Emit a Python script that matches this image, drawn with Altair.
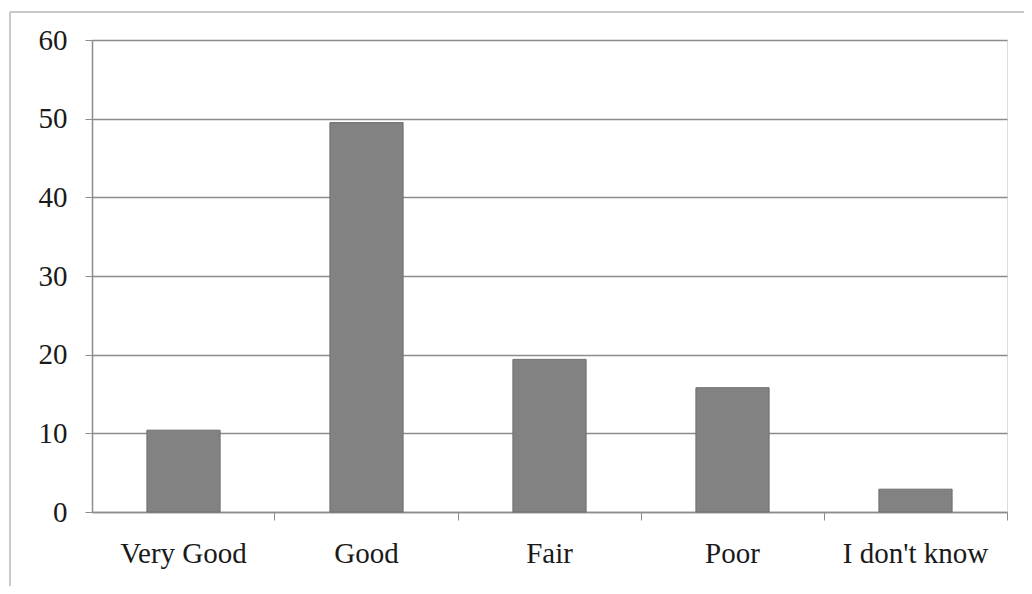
import altair as alt
import pandas as pd

categories = ["Very Good", "Good", "Fair", "Poor", "I don't know"]
values = [10.4, 49.5, 19.4, 15.8, 2.9]

df = pd.DataFrame({"category": categories, "value": values})

FONT = "Liberation Serif"
GRID = "#8c8c8c"

bars = alt.Chart(df).mark_bar(
    color="#828282", stroke="#6e6e6e", strokeWidth=1
).encode(
    x=alt.X(
        "category:N",
        sort=categories,
        scale=alt.Scale(paddingInner=0.6, paddingOuter=0.3),
        axis=alt.Axis(
            title=None,
            labelAngle=0,
            labelFont=FONT,
            labelFontSize=29,
            labelColor="#1a1a1a",
            bandPosition=1.75,
            tickSize=8,
            tickColor=GRID,
            domainColor=GRID,
            domainWidth=1.5,
            labelPadding=19,
            grid=False,
        ),
    ),
    y=alt.Y(
        "value:Q",
        scale=alt.Scale(domain=[0, 60], nice=False),
        axis=alt.Axis(
            title=None,
            values=[0, 10, 20, 30, 40, 50, 60],
            labelFont=FONT,
            labelFontSize=29,
            labelColor="#1a1a1a",
            tickSize=7,
            tickColor=GRID,
            domainColor=GRID,
            domainWidth=1.5,
            gridColor=GRID,
            gridWidth=1.5,
            gridOpacity=1,
            labelPadding=18,
        ),
    ),
)

frame_left = alt.Chart(df).mark_rule(color="#c8c8c8", strokeWidth=1).encode(
    x=alt.value(-82), y=alt.value(-28), y2=alt.value(560)
)
frame_top = alt.Chart(df).mark_rule(color="#c8c8c8", strokeWidth=1).encode(
    x=alt.value(-82), x2=alt.value(940), y=alt.value(-28)
)

chart = alt.layer(bars, frame_left, frame_top).properties(
    width=915,
    height=472,
    autosize=alt.AutoSizeParams(type="none"),
    padding={"left": 84, "top": 32, "right": 17, "bottom": 74},
).configure_view(stroke=None).configure(background="white")

chart.save("out.html", embed_options={"renderer": "svg", "actions": False})
